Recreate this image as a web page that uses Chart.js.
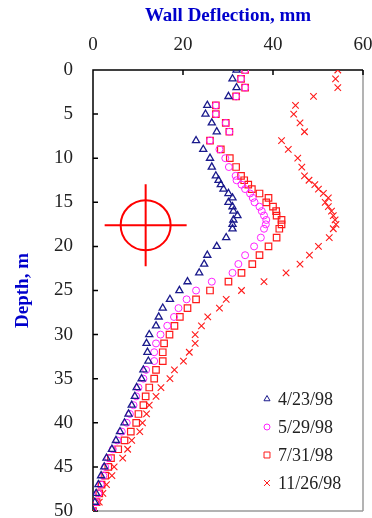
<!DOCTYPE html>
<html>
<head>
<meta charset="utf-8">
<script src="https://cdn.jsdelivr.net/npm/chart.js@4/dist/chart.umd.min.js"></script>
<style>
  html, body { margin: 0; padding: 0; background: #fff; }
  #wrap { width: 372px; height: 518px; }
</style>
</head>
<body>
<div id="wrap"><canvas id="chart" width="372" height="518"></canvas></div>
<script>
// depth (m) readings, same for every survey
var depth = [0,1,2,3,4,5,6,7,8,9,10,11,12,12.5,13,13.5,14,14.5,15,15.5,16,16.5,17,17.5,18,
  19,20,21,22,23,24,25,26,27,28,29,30,31,32,33,34,35,36,37,38,39,40,41,42,43,44,45,46,47,48,49,50];

// wall deflection (mm) per survey date
var defl_0423 = [31.9,31.0,31.9,30.1,25.4,25.0,26.4,27.5,22.9,24.5,26.0,26.4,27.3,27.9,28.4,29.0,30.1,31.0,30.1,31.0,31.2,32.1,31.2,31.0,31.0,
  29.6,27.5,25.4,24.7,23.6,21.0,19.2,17.1,15.5,14.6,14.0,12.5,11.9,12.1,12.3,11.2,10.8,9.7,9.3,8.6,7.9,7.0,6.0,5.1,4.2,3.0,2.5,1.8,1.2,0.7,0.4,0];
var defl_0529 = [33.8,32.9,33.8,31.8,27.3,27.3,29.5,30.3,26.0,28.1,29.4,30.2,31.7,31.9,33.0,33.8,34.9,35.5,35.9,37.0,37.5,38.0,38.5,38.4,38.0,
  37.3,35.8,33.8,32.3,31.0,26.4,22.9,20.8,19.0,18.0,16.5,15.0,14.0,13.6,13.6,11.8,11.2,10.1,9.6,9.0,8.2,7.5,6.4,5.4,4.4,3.4,2.7,2.3,1.7,1.2,0.7,0];
var defl_0731 = [33.8,32.9,33.8,31.8,27.3,27.3,29.5,30.3,26.0,28.4,30.4,31.8,32.9,33.6,34.5,35.3,37.0,39.0,38.5,40.0,40.7,40.8,41.9,41.9,41.4,
  40.8,39.0,37.0,35.4,33.0,30.1,26.0,22.9,21.0,19.3,18.1,17.0,15.8,15.5,15.5,14.0,13.6,12.5,11.7,11.2,10.1,9.6,8.4,7.0,5.6,4.0,3.4,2.7,1.9,1.4,0.8,0];
var defl_1126 = [54.4,53.9,54.4,49.0,45.0,44.6,46.0,47.0,41.9,43.4,45.5,46.4,47.0,48.0,49.3,50.1,51.2,52.3,51.6,52.3,53.0,53.4,53.8,54.0,53.4,
  52.5,50.1,48.1,46.0,42.9,38.0,33.0,29.6,28.1,25.5,24.1,22.7,22.7,21.4,20.1,18.1,17.1,15.1,14.0,12.5,11.9,11.0,10.4,8.6,7.7,6.6,4.7,4.2,3.0,2.2,1.4,0];

var labels = ['4/23/98', '5/29/98', '7/31/98', '11/26/98'];
var x_ticks = [0, 20, 40, 60];
var y_ticks = [0, 5, 10, 15, 20, 25, 30, 35, 40, 45, 50];

// crosshair symbol location (mm, m)
var target = {x: 11.7, y: 17.6};

var serif = "'Liberation Serif', 'Times New Roman', serif";

function pairs(xs){
    let out = [];
    for (let i=0; i<xs.length; i++){
        out.push({x: xs[i], y: depth[i]});
    }
    return out;
}

function series(label, xs, style, color, radius, width){
    return {
        label: label,
        data: pairs(xs),
        pointStyle: style,
        pointRadius: radius,
        borderColor: color,
        backgroundColor: 'rgba(0,0,0,0)',
        borderWidth: width,
        showLine: false
    };
}

function noPad(scale){
    scale.paddingLeft = 0; scale.paddingRight = 0;
    scale.paddingTop = 0; scale.paddingBottom = 0;
}

// frame + inward tick marks
var framePlugin = {
    id: 'frame',
    beforeDatasetsDraw(chart){
        let a = chart.chartArea, c = chart.ctx;
        let xs = chart.scales.x, ys = chart.scales.y;
        c.save();
        c.strokeStyle = '#9a9a9a';
        c.lineWidth = 1.5;
        c.beginPath();
        c.moveTo(a.right, a.top); c.lineTo(a.right, a.bottom);
        c.moveTo(a.left, a.bottom); c.lineTo(a.right, a.bottom);
        c.stroke();
        c.strokeStyle = '#000';
        c.lineWidth = 1.5;
        c.beginPath();
        c.moveTo(a.left, a.bottom); c.lineTo(a.left, a.top); c.lineTo(a.right, a.top);
        for (let i=0; i<y_ticks.length; i++){
            let py = ys.getPixelForValue(y_ticks[i]);
            c.moveTo(a.left, py); c.lineTo(a.left + 5, py);
        }
        for (let i=0; i<x_ticks.length; i++){
            let px = xs.getPixelForValue(x_ticks[i]);
            c.moveTo(px, a.top); c.lineTo(px, a.top + 5);
        }
        c.stroke();
        c.restore();
    }
};

// legend drawn inside the plot, lower right
var legendPlugin = {
    id: 'innerLegend',
    afterDraw(chart){
        let c = chart.ctx;
        let a = chart.chartArea;
        c.save();
        c.font = '18px ' + serif;
        c.textBaseline = 'middle';
        for (let i=0; i<labels.length; i++){
            let ds = chart.data.datasets[i];
            let mx = a.left + 174, my = a.top + 329 + i * 28;
            let r = ds.pointStyle === 'triangle' ? 3.5 : (ds.pointStyle === 'circle' ? 3 : 4.2);
            c.strokeStyle = ds.borderColor;
            c.fillStyle = 'rgba(0,0,0,0)';
            c.lineWidth = 1;
            Chart.helpers.drawPoint(c, { pointStyle: ds.pointStyle, radius: r, borderWidth: 1, rotation: 0 }, mx, my);
            c.fillStyle = '#222';
            c.fillText(labels[i], mx + 11, my + 1);
        }
        c.restore();
    }
};

var ctx = document.getElementById('chart');

var chart = new Chart(ctx, {
    type: 'scatter',
    data: {
        datasets: [
            series(labels[0], defl_0423, 'triangle', '#1a1a8c', 4.1, 1.3),
            series(labels[1], defl_0529, 'circle', '#ff22ff', 3.5, 1),
            series(labels[2], defl_0731, 'rect', '#ff1a1a', 4.6, 1.2),
            series(labels[3], defl_1126, 'crossRot', '#ff1a1a', 4.6, 1.1),
            {
                label: 'target',
                data: [target],
                pointStyle: 'circle',
                pointRadius: 25,
                borderColor: '#ff0000',
                backgroundColor: 'rgba(0,0,0,0)',
                borderWidth: 2
            },
            {
                label: 'target cross',
                data: [target],
                pointStyle: 'cross',
                pointRadius: 41,
                borderColor: '#ff0000',
                borderWidth: 2
            }
        ]
    },
    options: {
        responsive: false,
        animation: false,
        layout: { autoPadding: false, padding: { left: 0, right: 9, top: 0, bottom: 7 } },
        plugins: {
            legend: { display: false },
            tooltip: { enabled: false }
        },
        scales: {
            x: {
                type: 'linear',
                position: 'top',
                min: 0, max: 60,
                afterBuildTicks: function(scale){ scale.ticks = x_ticks.map(v => ({value: v})); },
                grid: { display: false },
                border: { display: false },
                ticks: { color: '#222', font: { family: serif, size: 19 }, padding: 6, maxRotation: 0 },
                title: {
                    display: true, text: 'Wall Deflection, mm', color: '#0000cc',
                    font: { family: serif, size: 19, weight: 'bold' },
                    padding: { top: 5, bottom: 0 }
                },
                afterFit: function(scale){ scale.height = 70; noPad(scale); }
            },
            y: {
                type: 'linear',
                reverse: true,
                min: 0, max: 50,
                afterBuildTicks: function(scale){ scale.ticks = y_ticks.map(v => ({value: v})); },
                grid: { display: false },
                border: { display: false },
                ticks: { color: '#222', font: { family: serif, size: 19 }, padding: 12 },
                title: {
                    display: true, text: 'Depth, m', color: '#0000cc',
                    font: { family: serif, size: 19, weight: 'bold' },
                    padding: { top: 12, bottom: 0 }
                },
                afterFit: function(scale){ scale.width = 93; noPad(scale); }
            }
        }
    },
    plugins: [framePlugin, legendPlugin]
});
</script>
</body>
</html>
